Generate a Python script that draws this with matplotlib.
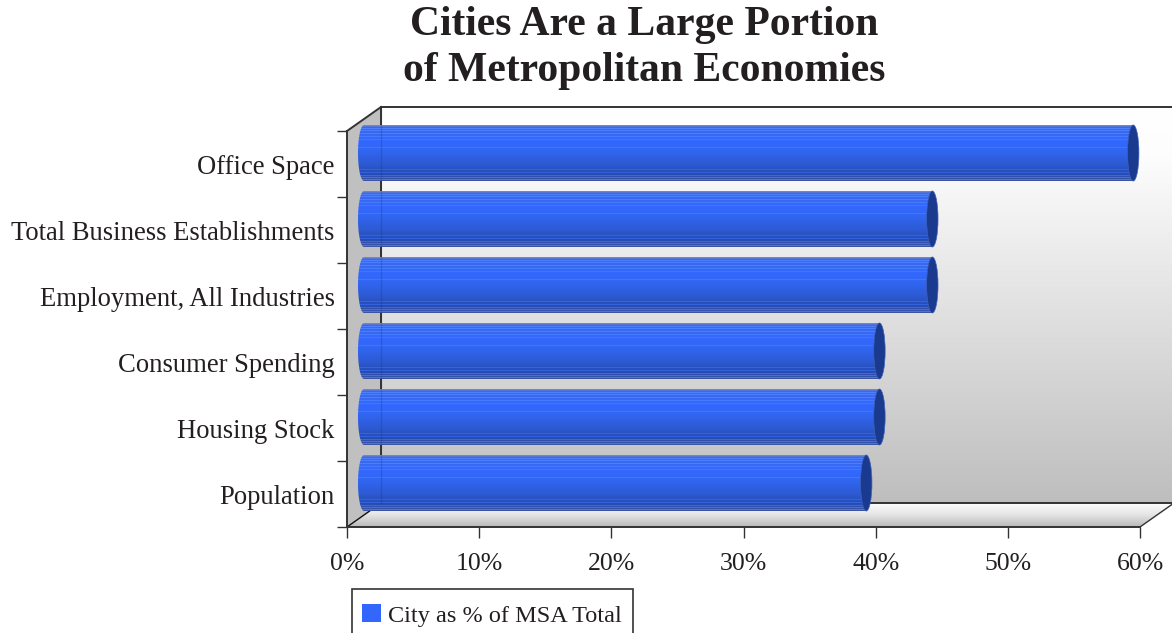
import numpy as np
import matplotlib
matplotlib.use("Agg")
import matplotlib.pyplot as plt
from matplotlib.patches import Polygon, Patch, Ellipse, Rectangle
from matplotlib.colors import LinearSegmentedColormap, ListedColormap

categories = ["Population", "Housing Stock", "Consumer Spending",
              "Employment, All Industries", "Total Business Establishments", "Office Space"]
values = [38, 39, 39, 43, 43, 58.2]
series_name = "City as % of MSA Total"
x_ticks = [0, 10, 20, 30, 40, 50, 60]
title = "Cities Are a Large Portion\nof Metropolitan Economies"

W, H = 1172, 633
TXT = "#231f20"
plt.rcParams["font.family"] = ["Liberation Serif", "DejaVu Serif"]
fig = plt.figure(figsize=(W / 100, H / 100), dpi=100)
ax = fig.add_axes([347 / W, 1 - 527 / H, 793 / W, 396 / H])
ax.set_xlim(0, 60)
ax.set_ylim(0, 6)
pxx = 60 / 793
pxy = 6 / 396
dx, dy = 34 * pxx, 24 * pxy

def grad(stops, name):
    return LinearSegmentedColormap.from_list(name, stops)

vert = np.linspace(0, 1, 256)[:, None]

# back wall
wall = ax.imshow(vert, cmap=grad([(0, "#ffffff"), (0.12, "#fdfdfd"), (1, "#bebebe")], "wall"), vmin=0, vmax=1,
                 extent=(dx, 60 + dx + 2, dy, 6 + dy), origin="upper", aspect="auto", zorder=1)
wall.set_clip_box(fig.bbox)
# floor
floor_poly = Polygon([(0, 0), (60, 0), (60 + dx, dy), (dx, dy)], closed=True,
                     transform=ax.transData, fill=False, edgecolor="none", clip_on=False)
ax.add_patch(floor_poly)
floor = ax.imshow(vert, cmap=grad(["#ffffff", "#e4e4e4", "#b8b8b8"], "floor"), vmin=0, vmax=1,
                  extent=(0, 60 + dx, 0, dy), origin="upper", aspect="auto", zorder=1)
floor.set_clip_box(fig.bbox)
floor.set_clip_path(floor_poly)
# left wall
ax.add_patch(Polygon([(0, 0), (dx, dy), (dx, 6 + dy), (0, 6)], closed=True, facecolor="#c0c0c0",
                     edgecolor="none", clip_on=False, zorder=1))
# wall outlines
lk = dict(color="#333333", lw=1.4, clip_on=False, zorder=2)
ax.plot([0, dx], [6, 6 + dy], **lk)
ax.plot([dx, 60 + dx + 2], [6 + dy, 6 + dy], **lk)
ax.plot([dx, dx], [dy, 6 + dy], **lk)
ax.plot([dx, 60 + dx + 2], [dy, dy], **lk)
ax.plot([0, dx], [0, dy], color="#111111", lw=1.0, clip_on=False, zorder=2)
ax.plot([60, 60 + dx], [0, dy], color="#333333", lw=1.0, clip_on=False, zorder=2)

# cylinders: a smooth vertical shading with the fine banding of the original
base = grad([(0.00, "#6f86c8"), (0.03, "#3f68e0"), (0.25, "#3468ff"), (0.45, "#3166f2"),
             (0.70, "#2d5ad2"), (0.88, "#264cb2"), (1.00, "#3a55a8")], "barbase")(np.linspace(0, 1, 56))
for px, f in [(3, 1.18), (5, 1.18), (8, 1.18), (11, 1.15), (14, 1.10), (22, 1.12),
              (44, 1.15), (47, 1.2), (50, 1.25), (52, 1.3), (54, 1.3)]:
    base[px, :3] = np.clip(base[px, :3] * f + 0.02, 0, 1)
bar_cmap = ListedColormap(base)
bar_h = 56 / 66
rx = 6 * pxx
for i, v in enumerate(values):
    yc = i + 0.5 + 11 * pxy
    x0 = dx / 2
    x1 = x0 + v
    y0, y1 = yc - bar_h / 2, yc + bar_h / 2
    t = np.linspace(np.pi / 2, 3 * np.pi / 2, 40)
    left = np.c_[x0 + rx * np.cos(t), yc + bar_h / 2 * np.sin(t)]
    outline = np.vstack([[[x1, y1]], left, [[x1, y0]], [[x1, y1]]])
    clip = Polygon(outline, closed=True, transform=ax.transData, fill=False,
                   edgecolor="none", clip_on=False)
    ax.add_patch(clip)
    im = ax.imshow(vert, cmap=bar_cmap, vmin=0, vmax=1, extent=(x0 - rx, x1, y0, y1),
                   origin="upper", aspect="auto", zorder=3, interpolation="nearest")
    im.set_clip_box(fig.bbox)
    im.set_clip_path(clip)
    ax.add_patch(Ellipse((x1, yc), 2 * rx * 0.95, bar_h, facecolor="#1a3a90", edgecolor="#3f5fb8",
                         lw=0.5, clip_on=False, zorder=4))

# faint back-wall edge seen through the bars
ax.plot([dx, dx], [dy, 6 + dy], color="#1a2a60", lw=1.0, alpha=0.22, clip_on=False, zorder=5)

ax.set_xlim(0, 60)
ax.set_ylim(0, 6)
for s in ("top", "right"):
    ax.spines[s].set_visible(False)
for s in ("left", "bottom"):
    ax.spines[s].set_color("#333333")
    ax.spines[s].set_linewidth(1.4)
    ax.spines[s].set_zorder(6)
ax.set_xticks(x_ticks)
ax.set_xticklabels([f"{t}%" for t in x_ticks], fontsize=18.5, color=TXT)
ax.tick_params(axis="x", length=8, width=1.0, color="#333333", pad=11)
ax.set_yticks(range(7))
ax.set_yticklabels([])
ax.set_yticks(np.arange(6) + 0.5, minor=True)
ax.set_yticklabels(categories, minor=True, fontsize=19.2, color=TXT)
ax.tick_params(axis="y", which="major", length=7, width=1.0, color="#333333")
ax.tick_params(axis="y", which="minor", length=0, pad=9)

fig.text(644 / W, 1 - 48 / H, title, ha="center", va="center", fontsize=30, fontweight="bold",
         color=TXT, linespacing=1.28)

# legend box runs off the bottom of the canvas, as in the original
fig.add_artist(Rectangle((352 / W, 1 - 645 / H), 281 / W, 56 / H, transform=fig.transFigure,
                         facecolor="white", edgecolor="#333333", lw=1.2, clip_on=False))
leg = fig.legend(handles=[Patch(facecolor="#3366ff", edgecolor="none", label=series_name)],
                 loc="lower left", bbox_to_anchor=(352 / W, 1 - 637 / H), fontsize=17.5,
                 frameon=False,
                 handlelength=0.78, handleheight=0.78, handletextpad=0.28, borderpad=0.42,
                 borderaxespad=0)
leg.set_zorder(10)
for t in leg.get_texts():
    t.set_color(TXT)

fig.savefig("out.png", dpi=100)
